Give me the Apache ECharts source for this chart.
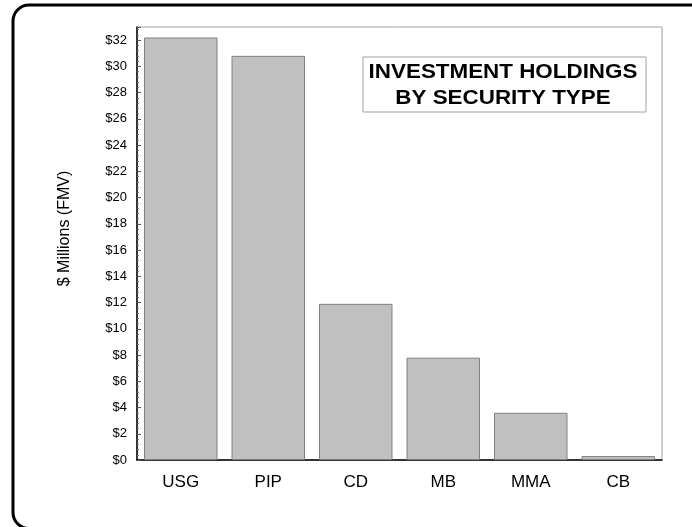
<!DOCTYPE html>
<html lang="en">

<head>
    <meta charset="UTF-8">
    <title>Investment Holdings by Security Type</title>
    <script src="https://cdn.jsdelivr.net/npm/echarts@6/dist/echarts.min.js"></script>
</head>

<body style="margin: 0">
    <div id="container" style="width: 692px; height: 527px"></div>
    <script>
        // security types and holdings, $ millions (FMV)
        var types = ['USG', 'PIP', 'CD', 'MB', 'MMA', 'CB'];
        var holdings = [32.2, 30.8, 11.9, 7.8, 3.6, 0.3];

        var myCharts = echarts.init(document.querySelector('#container'));
        myCharts.setOption({
            backgroundColor: '#fff',
            textStyle: { fontFamily: 'Arial, Liberation Sans, sans-serif' },
            grid: {
                left: 137, right: 30, top: 27, bottom: 67,
                show: true, borderColor: '#a0a0a0', borderWidth: 1
            },
            // outer frame (runs off the right/bottom edge) + title box
            graphic: [{
                type: 'rect',
                shape: { x: 13, y: 5, width: 700, height: 523.5, r: 16 },
                style: { fill: 'none', stroke: '#000', lineWidth: 3 }
            }, {
                type: 'rect',
                shape: { x: 363, y: 57, width: 283, height: 55 },
                style: { fill: '#fff', stroke: '#a0a0a0', lineWidth: 1 },
                z: 10
            }, {
                type: 'text',
                x: 503, y: 85,
                scaleX: 1.12,
                style: {
                    text: 'INVESTMENT HOLDINGS\nBY SECURITY TYPE',
                    fontFamily: 'Arial, Liberation Sans, sans-serif',
                    fontSize: 20, fontWeight: 'bold', lineHeight: 26,
                    fill: '#000', align: 'center', verticalAlign: 'middle'
                },
                z: 11
            }],
            xAxis: {
                type: 'category',
                data: types,
                axisLine: { lineStyle: { color: '#000', width: 1.5 } },
                axisTick: { inside: true, length: 4, lineStyle: { color: '#aaa' } },
                axisLabel: { color: '#000', fontSize: 17, margin: 14 }
            },
            yAxis: {
                type: 'value',
                min: 0, max: 33, interval: 2,
                name: '$ Millions (FMV)',
                nameLocation: 'middle',
                nameGap: 64,
                nameTextStyle: { color: '#000', fontSize: 16, padding: [0, 0, 0, 30] },
                axisLine: { show: true, lineStyle: { color: '#000', width: 1.5 } },
                axisTick: { show: true, inside: true, length: 4, lineStyle: { color: '#555' } },
                minorTick: { show: true, splitNumber: 5, length: 2, lineStyle: { color: '#777' } },
                splitLine: { show: false },
                axisLabel: {
                    color: '#000', fontSize: 13, margin: 10, showMaxLabel: false,
                    formatter: function (v) { return '$' + v; }
                }
            },
            series: [{
                type: 'bar',
                data: holdings,
                barCategoryGap: '16%',
                itemStyle: { color: '#c0c0c0', borderColor: '#808080', borderWidth: 1 }
            }]
        });
    </script>
</body>

</html>
